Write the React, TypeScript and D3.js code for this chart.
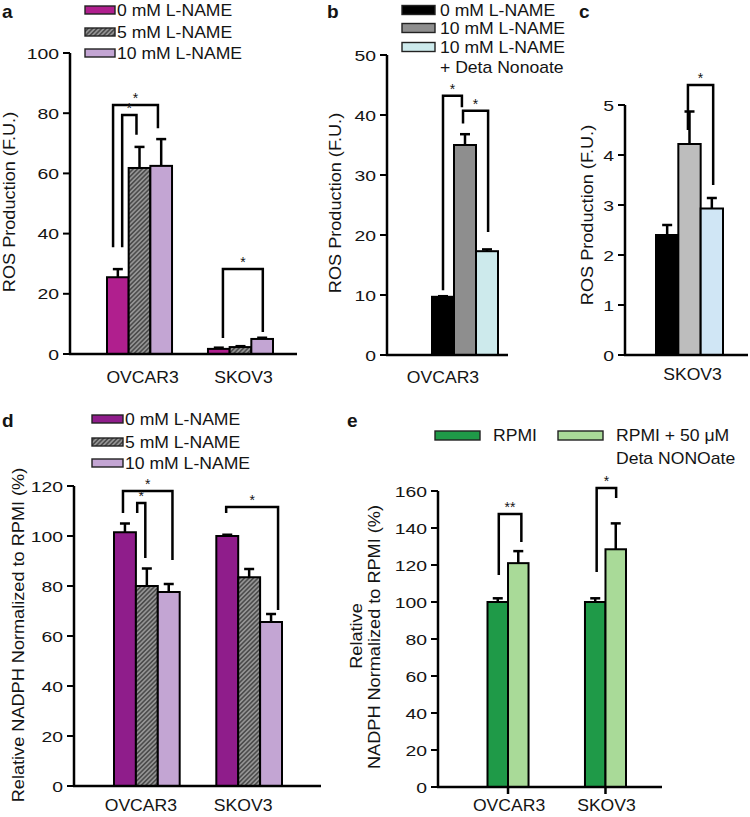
import React from "react";
import * as d3 from "d3";

const FONT = "'Liberation Sans', Arial, Helvetica, sans-serif";
const INK = "#141414";

// ---------- Panel a ----------
const A_CATEGORIES = ["OVCAR3", "SKOV3"];
const A_SERIES = ["0 mM L-NAME", "5 mM L-NAME", "10 mM L-NAME"];
const A_VALUES = [[25.5, 1.7], [61.8, 2.3], [62.5, 5.0]];
const A_ERRORS = [[28.2, 2.1], [68.8, 2.6], [71.4, 5.4]];
const A_TICKS = [0, 20, 40, 60, 80, 100];
const A_BRACKETS = [
  { cat: 0, x1: 0.28, x2: 2.35, y1: 35.5, top: 82.7, y2: 75, label: "*" },
  { cat: 0, x1: 0.7, x2: 1.36, y1: 35.5, top: 79.4, y2: 72.8, label: "*" },
  { cat: 1, x1: 0.69, x2: 2.53, y1: 5.3, top: 28.2, y2: 7.3, label: "*" },
];

// ---------- Panel b ----------
const B_CATEGORIES = ["OVCAR3"];
const B_SERIES = ["0 mM L-NAME", "10 mM L-NAME", "10 mM L-NAME"];
const B_SERIES_NOTE = "+ Deta Nonoate";
const B_VALUES = [[9.7], [35], [17.3]];
const B_ERRORS = [[9.8], [36.8], [17.6]];
const B_TICKS = [0, 10, 20, 30, 40, 50];
const B_BRACKETS = [
  { cat: 0, x1: 0.5, x2: 1.36, y1: 10.8, top: 43.2, y2: 41.3, label: "*" },
  { cat: 0, x1: 1.41, x2: 2.55, y1: 38.6, top: 40.7, y2: 20.5, label: "*" },
];

// ---------- Panel c ----------
const C_CATEGORIES = ["SKOV3"];
const C_VALUES = [[2.4], [4.22], [2.93]];
const C_ERRORS = [[2.6], [4.87], [3.14]];
const C_TICKS = [0, 1, 2, 3, 4, 5];
const C_BRACKETS = [{ cat: 0, x1: 1.43, x2: 2.56, y1: 4.5, top: 5.4, y2: 3.4, label: "*" }];

// ---------- Panel d ----------
const D_CATEGORIES = ["OVCAR3", "SKOV3"];
const D_SERIES = ["0 mM L-NAME", "5 mM L-NAME", "10 mM L-NAME"];
const D_VALUES = [[101.5, 100], [80, 83.5], [77.6, 65.6]];
const D_ERRORS = [[105, 100.5], [87, 86.8], [80.8, 68.8]];
const D_TICKS = [0, 20, 40, 60, 80, 100, 120];
const D_BRACKETS = [
  { cat: 0, x1: 0.41, x2: 2.67, y1: 109.2, top: 118, y2: 90.4, label: "*" },
  { cat: 0, x1: 1.06, x2: 1.43, y1: 109.2, top: 113.2, y2: 91.2, label: "*" },
  { cat: 1, x1: 0.45, x2: 2.82, y1: 109.2, top: 111.6, y2: 70.4, label: "*" },
];

// ---------- Panel e ----------
const E_CATEGORIES = ["OVCAR3", "SKOV3"];
const E_SERIES = ["RPMI", "RPMI + 50 \u03bcM"];
const E_SERIES_NOTE = "Deta NONOate";
const E_VALUES = [[100, 100], [121, 128.5]];
const E_ERRORS = [[102, 102], [127.5, 142.5]];
const E_TICKS = [0, 20, 40, 60, 80, 100, 120, 140, 160];
const E_BRACKETS = [
  { cat: 0, x1: 0.55, x2: 1.65, y1: 114.6, top: 147.6, y2: 132.4, label: "**" },
  { cat: 1, x1: 0.57, x2: 1.52, y1: 116.2, top: 161.6, y2: 156.2, label: "*" },
];

const HATCH = "url(#hatch)";

function T({ x, y, children, anchor = "start", size = 16, rot = 0, sx = 1.1, weight = "normal" }: any) {
  return (
    <text
      transform={`translate(${x},${y}) rotate(${rot}) scale(${sx},1)`}
      textAnchor={anchor}
      fontSize={size}
      fontWeight={weight}
      fill={INK}
    >
      {children}
    </text>
  );
}

function Panel({ d }: any) {
  const y = d3.scaleLinear().domain([0, d.max]).range([d.yBottom, d.yTop]);
  const x = d3
    .scaleBand<string>()
    .domain(d.cats)
    .range([d.barStart, d.barEnd])
    .paddingInner(d.padInner)
    .paddingOuter(0);
  const nS = d.values.length;
  const bw = x.bandwidth() / nS;
  const slot = (c: number, s: number) => (x(d.cats[c]) as number) + s * bw;
  const y0 = y(0);
  return (
    <g>
      {d.values.map((series: number[], s: number) =>
        series.map((v: number, c: number) => (
          <rect
            key={`b${s}-${c}`}
            x={slot(c, s)}
            y={y(v)}
            width={bw}
            height={y0 - y(v)}
            fill={d.fills[s]}
            stroke="#000"
            strokeWidth={2}
          />
        ))
      )}
      {d.values.map((series: number[], s: number) =>
        series.map((v: number, c: number) => {
          const cx = slot(c, s + 0.5);
          const e = d.errors[s][c];
          return (
            <g key={`e${s}-${c}`} stroke="#000" strokeWidth={2.5}>
              <line x1={cx} x2={cx} y1={y(v)} y2={y(e)} />
              <line x1={cx - 5} x2={cx + 5} y1={y(e)} y2={y(e)} />
            </g>
          );
        })
      )}
      {d.brackets.map((b: any, i: number) => {
        const xa = slot(b.cat, b.x1);
        const xb = slot(b.cat, b.x2);
        return (
          <g key={`k${i}`}>
            <path
              d={`M${xa},${y(b.y1)}V${y(b.top)}H${xb}V${y(b.y2)}`}
              fill="none"
              stroke="#000"
              strokeWidth={2.5}
            />
            <T x={(xa + xb) / 2} y={y(b.top) - 2} anchor="middle" size={14} sx={1}>
              {b.label}
            </T>
          </g>
        );
      })}
      {/* axes */}
      <line x1={d.axisX} x2={d.axisX} y1={y(0) + 1} y2={y(d.max)} stroke="#000" strokeWidth={2.5} />
      <line x1={d.axisX - 1} x2={d.axisEnd} y1={y0} y2={y0} stroke="#000" strokeWidth={2.5} />
      {d.ticks.map((t: number) => (
        <g key={`t${t}`}>
          <line x1={d.axisX - 7} x2={d.axisX} y1={y(t)} y2={y(t)} stroke="#000" strokeWidth={2} />
          <T x={d.axisX - 11} y={y(t) + 5.6} anchor="end" size={15.5} sx={1.25}>
            {t}
          </T>
        </g>
      ))}
      {d.xTicks &&
        d.cats.map((c: string) => (
          <line
            key={`xt${c}`}
            x1={(x(c) as number) + x.bandwidth() / 2}
            x2={(x(c) as number) + x.bandwidth() / 2}
            y1={y0}
            y2={y0 + 7}
            stroke="#000"
            strokeWidth={2.5}
          />
        ))}
      {d.cats.map((c: string) => (
        <T key={`c${c}`} x={(x(c) as number) + x.bandwidth() / 2 + d.labelShift} y={d.labelY} anchor="middle">
          {c}
        </T>
      ))}
      {d.yLabels.map((l: any, i: number) => (
        <T key={`yl${i}`} x={l.x} y={l.y} rot={-90} anchor="middle" size={16.5} sx={1.1}>
          {l.text}
        </T>
      ))}
      <T x={d.letter.x} y={d.letter.y} size={19} sx={1} weight="bold">
        {d.letter.text}
      </T>
    </g>
  );
}

function VLegend({ x, rows, labels, fills, w, h, textX, note }: any) {
  return (
    <g>
      {labels.map((l: string, i: number) => (
        <g key={i}>
          <rect x={x} y={rows[i] - h / 2} width={w} height={h} fill={fills[i]} stroke="#222" strokeWidth={1.4} />
          <T x={textX} y={rows[i] + 5.6}>
            {l}
          </T>
        </g>
      ))}
      {note && (
        <T x={textX} y={note.y + 5.6}>
          {note.text}
        </T>
      )}
    </g>
  );
}

export default function App() {
  const aFills = ["#b01f8e", HATCH, "#c3a5d3"];
  const bFills = ["#000000", "#8e8e8e", "#cdeaec"];
  const cFills = ["#000000", "#bdbdbd", "#d0e6f5"];
  const dFills = ["#8f1d8b", HATCH, "#c3a5d3"];
  const eFills = ["#1f9a48", "#a9da98"];

  const panelA = {
    cats: A_CATEGORIES, values: A_VALUES, errors: A_ERRORS, ticks: A_TICKS, brackets: A_BRACKETS, fills: aFills,
    max: 100, yBottom: 354, yTop: 53, axisX: 70, axisEnd: 297, barStart: 107, barEnd: 273, padInner: 0.356,
    labelShift: 3, labelY: 383,
    yLabels: [{ x: 15, y: 202, text: "ROS Production (F.U.)" }],
    letter: { x: 2, y: 18, text: "a" },
  };
  const panelB = {
    cats: B_CATEGORIES, values: B_VALUES, errors: B_ERRORS, ticks: B_TICKS, brackets: B_BRACKETS, fills: bFills,
    max: 50, yBottom: 355, yTop: 55, axisX: 387, axisEnd: 508, barStart: 432, barEnd: 498, padInner: 0,
    labelShift: -22, labelY: 383,
    yLabels: [{ x: 341, y: 203, text: "ROS Production (F.U.)" }],
    letter: { x: 327, y: 18, text: "b" },
  };
  const panelC = {
    cats: C_CATEGORIES, values: C_VALUES, errors: C_ERRORS, ticks: C_TICKS, brackets: C_BRACKETS, fills: cFills,
    max: 5, yBottom: 355, yTop: 105, axisX: 625, axisEnd: 748, barStart: 656, barEnd: 723, padInner: 0,
    labelShift: 3, labelY: 380,
    yLabels: [{ x: 593, y: 215, text: "ROS Production (F.U.)" }],
    letter: { x: 579, y: 18, text: "c" },
  };
  const panelD = {
    cats: D_CATEGORIES, values: D_VALUES, errors: D_ERRORS, ticks: D_TICKS, brackets: D_BRACKETS, fills: dFills,
    max: 120, yBottom: 786, yTop: 486, axisX: 74, axisEnd: 321, barStart: 114, barEnd: 282, padInner: 0.358,
    labelShift: -6, labelY: 811,
    yLabels: [{ x: 24, y: 635, text: "Relative NADPH Normalized to RPMI (%)" }],
    letter: { x: 2, y: 427, text: "d" },
  };
  const panelE = {
    cats: E_CATEGORIES, values: E_VALUES, errors: E_ERRORS, ticks: E_TICKS, brackets: E_BRACKETS, fills: eFills,
    max: 160, yBottom: 787, yTop: 491, axisX: 438, axisEnd: 662, barStart: 487.5, barEnd: 626, padInner: 0.579,
    labelShift: 1, labelY: 811, xTicks: true,
    yLabels: [
      { x: 362, y: 636, text: "Relative" },
      { x: 380, y: 637, text: "NADPH Normalized to RPMI (%)" },
    ],
    letter: { x: 347, y: 427, text: "e" },
  };

  return (
    <svg
      width={750}
      height={817}
      style={{ position: "absolute", left: 0, top: 0, background: "#fff", fontFamily: FONT }}
    >
      <defs>
        <pattern id="hatch" patternUnits="userSpaceOnUse" width={3.2} height={3.2} patternTransform="rotate(45)">
          <rect width={3.2} height={3.2} fill="#4d4d4d" />
          <line x1={0.8} x2={0.8} y1={0} y2={3.2} stroke="#b5b5b5" strokeWidth={1.1} />
        </pattern>
      </defs>
      <rect width={750} height={817} fill="#fff" />
      <Panel d={panelA} />
      <Panel d={panelB} />
      <Panel d={panelC} />
      <Panel d={panelD} />
      <Panel d={panelE} />
      <VLegend x={85} rows={[10, 32, 53]} labels={A_SERIES} fills={aFills} w={30} h={8} textX={117} />
      <VLegend
        x={402}
        rows={[10, 28, 47]}
        labels={B_SERIES}
        fills={bFills}
        w={33}
        h={9}
        textX={440}
        note={{ y: 67, text: B_SERIES_NOTE }}
      />
      <VLegend x={92} rows={[419, 442, 463]} labels={D_SERIES} fills={dFills} w={31} h={8} textX={125} />
      {/* legend e (horizontal) */}
      <g>
        <rect x={435} y={431} width={45} height={9} fill={eFills[0]} stroke="#222" strokeWidth={1.4} />
        <T x={493} y={440.6}>{E_SERIES[0]}</T>
        <rect x={558} y={431} width={45} height={9} fill={eFills[1]} stroke="#222" strokeWidth={1.4} />
        <T x={616} y={440.6}>{E_SERIES[1]}</T>
        <T x={616} y={463.6}>{E_SERIES_NOTE}</T>
      </g>
    </svg>
  );
}
